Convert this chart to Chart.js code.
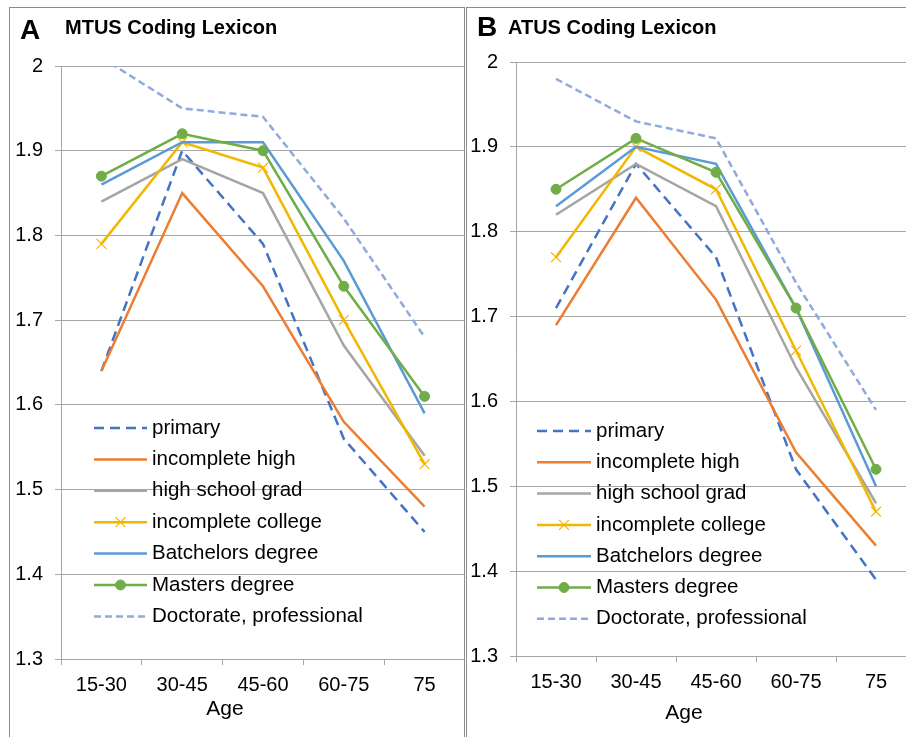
<!DOCTYPE html>
<html>
<head>
<meta charset="utf-8">
<script src="https://cdn.jsdelivr.net/npm/chart.js@4/dist/chart.umd.min.js"></script>
<style>
  body { margin: 0; background: #fff; overflow: hidden; width: 906px; height: 737px; position: relative; }
  .panel { position: absolute; top: 7px; height: 740px; border: 1px solid #8c8c8c; box-sizing: border-box; overflow: hidden; }
  #panelA { left: 9px; width: 456px; }
  #panelB { left: 466px; width: 460px; }
  .panel canvas { position: absolute; left: 0; top: 0; }
</style>
</head>
<body>
<div class="panel" id="panelA"><canvas id="chartA" width="455" height="729"></canvas></div>
<div class="panel" id="panelB"><canvas id="chartB" width="449" height="729"></canvas></div>
<script>
// categories
const ageGroups = ['15-30', '30-45', '45-60', '60-75', '75'];
const yTicks = [1.3, 1.4, 1.5, 1.6, 1.7, 1.8, 1.9, 2];

// MTUS coding lexicon (panel A)
const mtusPrimary     = [1.64, 1.90, 1.79, 1.56, 1.45];
const mtusIncHigh     = [1.64, 1.85, 1.74, 1.58, 1.48];
const mtusHighGrad    = [1.84, 1.89, 1.85, 1.67, 1.54];
const mtusIncCollege  = [1.79, 1.91, 1.88, 1.70, 1.53];
const mtusBatchelors  = [1.86, 1.91, 1.91, 1.77, 1.59];
const mtusMasters     = [1.87, 1.92, 1.90, 1.74, 1.61];
const mtusDoctorate   = [2.01, 1.95, 1.94, 1.82, 1.68];

// ATUS coding lexicon (panel B)
const atusPrimary     = [1.71, 1.88, 1.77, 1.52, 1.39];
const atusIncHigh     = [1.69, 1.84, 1.72, 1.54, 1.43];
const atusHighGrad    = [1.82, 1.88, 1.83, 1.64, 1.48];
const atusIncCollege  = [1.77, 1.90, 1.85, 1.66, 1.47];
const atusBatchelors  = [1.83, 1.90, 1.88, 1.71, 1.50];
const atusMasters     = [1.85, 1.91, 1.87, 1.71, 1.52];
const atusDoctorate   = [1.98, 1.93, 1.91, 1.74, 1.59];

const FONT = "'Liberation Sans', Arial, Helvetica, sans-serif";
const GRID = '#a6a6a6';

// series look, same for both panels
function makeDatasets(values) {
  const styles = [
    { label: 'primary', color: '#4472c4', dash: [10, 6] },
    { label: 'incomplete high', color: '#ed7d31' },
    { label: 'high school grad', color: '#a5a5a5' },
    { label: 'incomplete college', color: '#f2b700', point: 'crossRot', r: 7 },
    { label: 'Batchelors degree', color: '#5b9bd5' },
    { label: 'Masters degree', color: '#70ad47', point: 'circle', r: 5 },
    { label: 'Doctorate, professional', color: '#8faadc', dash: [7, 4] }
  ];
  return styles.map((s, i) => ({
    label: s.label,
    data: values[i],
    borderColor: s.color,
    backgroundColor: s.color,
    borderWidth: 2.5,
    borderDash: s.dash || [],
    pointStyle: s.point || 'circle',
    pointRadius: s.r || 0,
    pointBorderWidth: s.point === 'crossRot' ? 1.2 : 1,
    pointBackgroundColor: s.color,
    pointBorderColor: s.color,
    tension: 0,
    order: 7 - i // later series on top, like the original
  }));
}

// legend inside the plot + panel texts
const panelText = {
  id: 'panelText',
  afterDraw(chart, args, o) {
    const ctx = chart.ctx;
    ctx.save();
    chart.data.datasets.forEach((ds, i) => {
      const y = o.legendY + i * o.rowH;
      ctx.strokeStyle = ds.borderColor;
      ctx.lineWidth = ds.borderWidth;
      ctx.setLineDash(ds.borderDash);
      ctx.beginPath();
      ctx.moveTo(o.legendX, y);
      ctx.lineTo(o.legendX + o.sampleW, y);
      ctx.stroke();
      ctx.setLineDash([]);
      if (ds.pointRadius > 0) {
        ctx.fillStyle = ds.pointBackgroundColor;
        ctx.strokeStyle = ds.pointBorderColor;
        ctx.lineWidth = ds.pointBorderWidth;
        Chart.helpers.drawPoint(ctx, {
          pointStyle: ds.pointStyle, radius: ds.pointRadius, rotation: 0, borderWidth: ds.pointBorderWidth
        }, o.legendX + o.sampleW / 2, y);
      }
      ctx.fillStyle = '#000';
      ctx.font = '20.5px ' + FONT;
      ctx.textBaseline = 'middle';
      ctx.textAlign = 'left';
      ctx.fillText(ds.label, o.legendX + o.sampleW + 5, y);
    });
    ctx.textBaseline = 'alphabetic';
    ctx.fillStyle = '#000';
    ctx.font = 'bold 28px ' + FONT;
    ctx.fillText(o.letter, o.letterX, o.letterY);
    ctx.font = 'bold 20px ' + FONT;
    ctx.fillText(o.title, o.titleX, o.titleY);
    ctx.font = '21px ' + FONT;
    ctx.textAlign = 'center';
    ctx.fillText('Age', o.ageX, o.ageY);
    ctx.restore();
  }
};

function makeChart(id, values, yWidth, xHeight, padTop, texts) {
  return new Chart(document.getElementById(id), {
    type: 'line',
    data: { labels: ageGroups, datasets: makeDatasets(values) },
    options: {
      responsive: false,
      animation: false,
      events: [],
      layout: { autoPadding: false, padding: { top: padTop, left: 0, right: 0, bottom: 0 } },
      scales: {
        x: {
          offset: true,
          grid: { drawOnChartArea: false, drawTicks: true, tickLength: 6, offset: true, color: GRID },
          border: { display: true, color: GRID },
          ticks: { color: '#000', font: { family: FONT, size: 20 }, padding: 8, maxRotation: 0, autoSkip: false },
          afterFit: (s) => { s.height = xHeight; s.paddingLeft = 0; s.paddingRight = 0; }
        },
        y: {
          min: yTicks[0],
          max: yTicks[yTicks.length - 1],
          afterBuildTicks: (s) => { s.ticks = yTicks.map(v => ({ value: v })); },
          grid: { color: GRID, tickLength: 6 },
          border: { display: true, color: GRID },
          ticks: { color: '#000', font: { family: FONT, size: 20 }, padding: 12, callback: v => String(+v.toFixed(1)) },
          afterFit: (s) => { s.width = yWidth; }
        }
      },
      plugins: {
        legend: { display: false },
        tooltip: { enabled: false },
        panelText: texts
      }
    },
    plugins: [panelText]
  });
}

makeChart('chartA',
  [mtusPrimary, mtusIncHigh, mtusHighGrad, mtusIncCollege, mtusBatchelors, mtusMasters, mtusDoctorate],
  51, 78, 58,
  { letter: 'A', letterX: 10, letterY: 31, title: 'MTUS Coding Lexicon', titleX: 55, titleY: 26,
    ageX: 215, ageY: 707, legendX: 84, legendY: 420, rowH: 31.4, sampleW: 53 });

makeChart('chartB',
  [atusPrimary, atusIncHigh, atusHighGrad, atusIncCollege, atusBatchelors, atusMasters, atusDoctorate],
  49, 81, 54,
  { letter: 'B', letterX: 10, letterY: 28, title: 'ATUS Coding Lexicon', titleX: 41, titleY: 26,
    ageX: 217, ageY: 711, legendX: 70, legendY: 423, rowH: 31.3, sampleW: 54 });
</script>
</body>
</html>
